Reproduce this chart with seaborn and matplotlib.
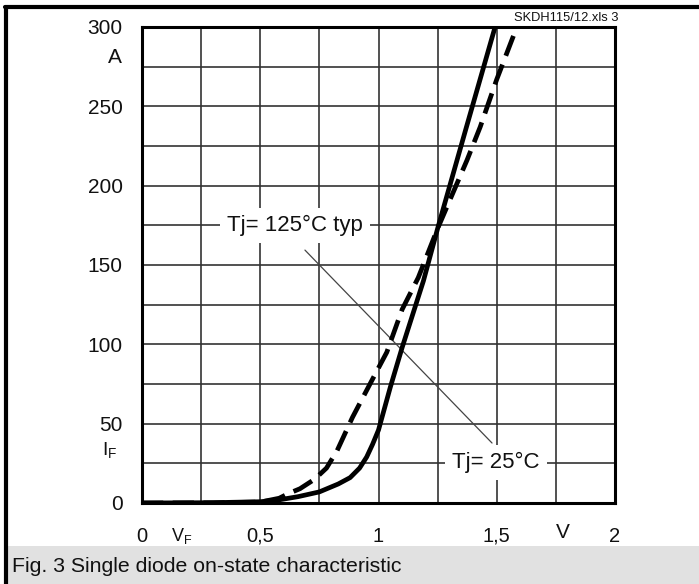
import numpy as np
import pandas as pd
import matplotlib
matplotlib.use("Agg")
import matplotlib.pyplot as plt
import seaborn as sns
from matplotlib.lines import Line2D
from matplotlib.patches import Rectangle

sns.set_theme(style="white")
plt.rcParams['font.family'] = ['Liberation Sans', 'DejaVu Sans']

# Data
vf_25 = [0.0, 0.3, 0.5, 0.58, 0.66, 0.75, 0.83, 0.88, 0.92, 0.95, 0.975, 1.0, 1.05, 1.10, 1.19, 1.25, 1.37, 1.493]
if_25 = [0.0, 0.2, 0.8, 2.0, 4.0, 7.0, 12.0, 16.0, 22.0, 29.0, 37.0, 46.0, 73.0, 98.0, 140.0, 173.0, 236.0, 300.0]
vf_125 = [0.0, 0.3, 0.5, 0.58, 0.62, 0.668, 0.73, 0.78, 0.825, 0.89, 0.964, 1.035, 1.10, 1.168, 1.25, 1.374, 1.43, 1.50, 1.585]
if_125 = [0.0, 0.1, 0.6, 3.0, 6.0, 9.0, 15.0, 22.0, 33.0, 54.0, 75.0, 95.0, 122.0, 142.0, 173.0, 216.0, 237.0, 267.0, 300.0]

x_ticks = [0, 0.5, 1, 1.5, 2]
x_labels = ["0", "0,5", "1", "1,5", "2"]
y_ticks = [0, 50, 100, 150, 200, 250, 300]
y_labels = ["0", "50", "100", "150", "200", "250", "300"]

df = pd.concat([
    pd.DataFrame({"VF": vf_25, "IF": if_25, "Tj": "25"}),
    pd.DataFrame({"VF": vf_125, "IF": if_125, "Tj": "125"}),
], ignore_index=True)

W, H = 699, 584
fig = plt.figure(figsize=(W / 100, H / 100), dpi=100)
ax = fig.add_axes([142 / W, 1 - 503 / H, 473 / W, 476 / H])

ax.set_xlim(0, 2)
ax.set_ylim(0, 300)
ax.set_xticks(np.arange(0, 2.01, 0.25), minor=True)
ax.set_yticks(np.arange(0, 301, 25), minor=True)
ax.set_xticks(x_ticks)
ax.set_yticks(y_ticks)
ax.set_xticklabels(x_labels, fontsize=14.5, color='#111111')
ax.set_yticklabels(y_labels, fontsize=15, color='#111111')
ax.tick_params(axis='x', which='both', length=0, pad=17)
ax.tick_params(axis='y', which='both', length=0, pad=14)
ax.grid(True, which='both', color='#333333', linewidth=1.2)
ax.set_axisbelow(True)
for s in ax.spines.values():
    s.set_color('black')
    s.set_linewidth(2.2)
    s.set_zorder(5)

sns.lineplot(data=df[df.Tj == "25"], x="VF", y="IF", ax=ax, color='black',
             linewidth=3.4, sort=False, estimator=None, zorder=4)
sns.lineplot(data=df[df.Tj == "125"], x="VF", y="IF", ax=ax, color='black',
             linewidth=3.4, sort=False, estimator=None, zorder=4,
             linestyle=(0, (4.5, 2.0)))
ax.set_xlabel("")
ax.set_ylabel("")

# leader line
ax.plot([0.689, 1.480], [159.4, 37.8], color='#444444', linewidth=0.9, zorder=3)

bbox = dict(facecolor='white', edgecolor='none', pad=5)
ax.text(0.647, 175, "Tj= 125°C typ", fontsize=16, ha='center', va='center',
        bbox=bbox, zorder=6, color='#111111')
ax.text(1.497, 25.8, "Tj= 25°C", fontsize=16, ha='center', va='center',
        bbox=bbox, zorder=6, color='#111111')

# unit labels
ax.text(-0.115, 281, "A", fontsize=15, ha='center', va='center', color='#111111')
ax.text(-0.135, 33, "I$_\\mathregular{F}$", fontsize=14, ha='center', va='center', color='#111111')
fig.text(182 / W, 1 - 536 / H, "V$_\\mathregular{F}$", fontsize=13, ha='center', va='center', color='#111111')
fig.text(563 / W, 1 - 532 / H, "V", fontsize=15, ha='center', va='center', color='#111111')
fig.text(619 / W, 1 - 18 / H, "SKDH115/12.xls 3", fontsize=9.3, ha='right', va='center', color='#111111')

# outer frame
fig.add_artist(Line2D([6 / W, 6 / W], [0, 1 - 7 / H], color='black', linewidth=3,
                      transform=fig.transFigure))
fig.add_artist(Line2D([5 / W, 1], [1 - 7 / H, 1 - 7 / H], color='black', linewidth=3,
                      transform=fig.transFigure))
# caption band
fig.add_artist(Rectangle((7.5 / W, 0), 1, 38 / H, facecolor='#e1e1e1', edgecolor='none',
                         transform=fig.transFigure))
fig.text(12 / W, 1 - 566 / H, "Fig. 3 Single diode on-state characteristic",
         fontsize=15.3, ha='left', va='center', color='#111111')

fig.savefig("out.png", dpi=100)
